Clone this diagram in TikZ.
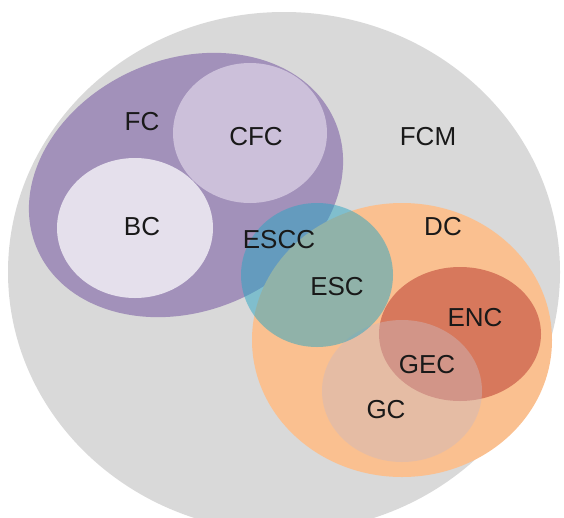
\documentclass[tikz,border=0pt]{standalone}
\usepackage{fontspec}
\setmainfont{Liberation Sans}
\usepackage{xcolor}

\definecolor{fcmgray}{RGB}{217,217,217}
\definecolor{fcpurple}{RGB}{162,145,186}
\definecolor{cfclilac}{RGB}{204,192,218}
\definecolor{bclilac}{RGB}{229,224,236}
\definecolor{dcorange}{RGB}{250,192,144}
\definecolor{encred}{RGB}{215,120,92}
\definecolor{gcrose}{RGB}{205,185,190}
\definecolor{escblue}{RGB}{40,165,195}

\tikzset{
	setlabel/.style={font=\fontsize{26}{30}\selectfont, inner sep=0pt, text=black!90}
}

\begin{document}
\begin{tikzpicture}[x=1pt, y=-1pt]
	\clip (0,0) rectangle (564,517);
	
	% FCM
	\fill[fcmgray] (284,272) ellipse [x radius=276, y radius=260];
	
	% FC with CFC and BC
	\fill[fcpurple, rotate around={23:(186,185)}] (186,185) ellipse [x radius=162, y radius=126];
	\fill[cfclilac] (250,133) ellipse [x radius=77, y radius=70];
	\fill[bclilac] (135,228) ellipse [x radius=78, y radius=70];
	
	% DC with ENC and GC
	\fill[dcorange] (402,340) ellipse [x radius=150, y radius=137];
	\fill[encred] (460,334) ellipse [x radius=81, y radius=67];
	\fill[gcrose, fill opacity=0.45] (402,391) ellipse [x radius=80, y radius=71];
	
	% ESC
	\fill[escblue, fill opacity=0.5] (317,275) ellipse [x radius=76, y radius=72];
	
	\node[setlabel] (fcm) at (428,137) {FCM};
	\node[setlabel] (fc) at (142,122) {FC};
	\node[setlabel] (cfc) at (256,137) {CFC};
	\node[setlabel] (bc) at (142,227) {BC};
	\node[setlabel] (escc) at (279,240) {ESCC};
	\node[setlabel] (esc) at (337,287) {ESC};
	\node[setlabel] (dc) at (443,227) {DC};
	\node[setlabel] (enc) at (475,318) {ENC};
	\node[setlabel] (gec) at (427,365) {GEC};
	\node[setlabel] (gc) at (386,410) {GC};
\end{tikzpicture}
\end{document}
